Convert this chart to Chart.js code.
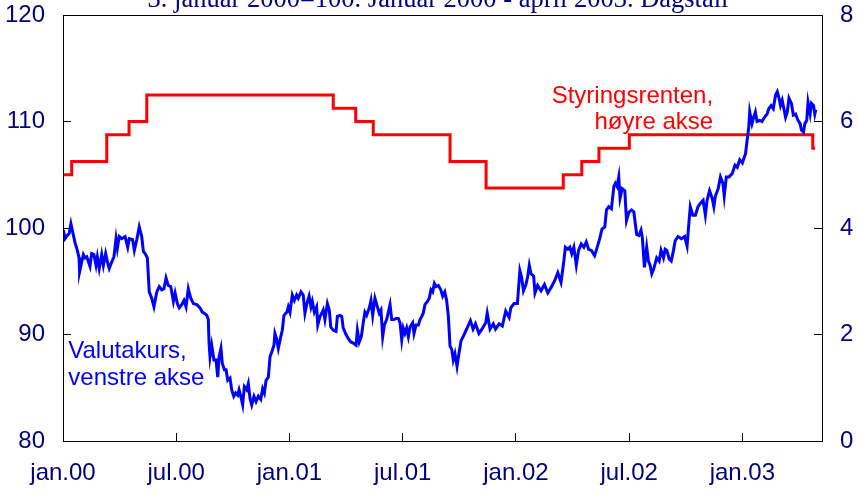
<!DOCTYPE html>
<html>
<head>
<meta charset="utf-8">
<script src="https://cdn.jsdelivr.net/npm/chart.js@4.4.1/dist/chart.umd.min.js"></script>
<style>
  html, body { margin: 0; padding: 0; background: #fff; }
  #wrap { width: 857px; height: 495px; }
</style>
</head>
<body>
<div id="wrap"><canvas id="chartFx"></canvas></div>
<script>
// Valutakurs (venstre akse) og styringsrente (hoyre akse), jan 2000 - april 2003
// x = maaneder etter 1. januar 2000
const titleText = "3. januar 2000=100. Januar 2000 - april 2003. Dagstall";
const monthTickLabels = ["jan.00", "jul.00", "jan.01", "jul.01", "jan.02", "jul.02", "jan.03"];
const fxLabel = ["Valutakurs,", "venstre akse"];
const rateLabel = ["Styringsrenten,", "høyre akse"];

const fxMonths = [
  0.02, 0.11, 0.23, 0.33, 0.42, 0.51, 0.64, 0.76, 0.85, 0.88, 0.99, 1.08, 1.17, 1.26, 1.43, 1.52, 1.64, 1.75, 1.82, 1.92,
  2.05, 2.14, 2.26, 2.37, 2.45, 2.58, 2.70, 2.81, 2.88, 2.98, 3.11, 3.29, 3.43, 3.51, 3.69, 3.78, 3.91, 4.04, 4.17, 4.26,
  4.35, 4.47, 4.57, 4.70, 4.82, 4.97, 5.10, 5.23, 5.35, 5.46, 5.58, 5.71, 5.85, 5.94, 6.06, 6.16, 6.29, 6.41, 6.52, 6.64,
  6.77, 6.91, 7.09, 7.26, 7.38, 7.49, 7.62, 7.70, 7.74, 7.79, 7.88, 8.00, 8.11, 8.20, 8.27, 8.37, 8.44, 8.55, 8.64, 8.73,
  8.85, 8.94, 9.05, 9.15, 9.26, 9.33, 9.42, 9.52, 9.61, 9.73, 9.82, 9.91, 10.00, 10.12, 10.23, 10.35, 10.48, 10.58, 10.67, 10.76,
  10.88, 10.97, 11.09, 11.18, 11.23, 11.32, 11.41, 11.54, 11.62, 11.71, 11.80, 11.87, 11.94, 12.03, 12.15, 12.26, 12.38, 12.47, 12.61, 12.73,
  12.82, 12.91, 13.04, 13.14, 13.21, 13.32, 13.44, 13.50, 13.62, 13.74, 13.79, 13.88, 14.01, 14.11, 14.19, 14.32, 14.47, 14.54, 14.68, 14.77,
  14.85, 15.00, 15.12, 15.25, 15.38, 15.53, 15.60, 15.70, 15.81, 15.91, 16.00, 16.09, 16.23, 16.32, 16.41, 16.53, 16.66, 16.76, 16.85, 16.94,
  17.03, 17.15, 17.24, 17.33, 17.42, 17.54, 17.65, 17.77, 17.86, 17.95, 18.03, 18.12, 18.21, 18.30, 18.39, 18.53, 18.60, 18.71, 18.83, 18.92,
  19.01, 19.09, 19.18, 19.31, 19.41, 19.50, 19.59, 19.68, 19.77, 19.89, 20.02, 20.12, 20.23, 20.33, 20.42, 20.51, 20.60, 20.68, 20.77, 20.88,
  20.97, 21.09, 21.23, 21.41, 21.59, 21.73, 21.86, 22.04, 22.20, 22.40, 22.48, 22.63, 22.80, 22.92, 23.11, 23.28, 23.46, 23.64, 23.73, 23.90,
  24.08, 24.21, 24.30, 24.40, 24.53, 24.62, 24.71, 24.80, 24.94, 25.01, 25.15, 25.33, 25.51, 25.69, 25.86, 26.04, 26.22, 26.39, 26.54, 26.62,
  26.75, 26.86, 26.96, 27.07, 27.20, 27.32, 27.46, 27.60, 27.73, 27.85, 28.00, 28.17, 28.31, 28.44, 28.56, 28.71, 28.80, 28.92, 29.06, 29.19,
  29.27, 29.36, 29.45, 29.52, 29.63, 29.77, 29.86, 29.99, 30.13, 30.25, 30.40, 30.52, 30.63, 30.70, 30.81, 30.93, 31.02, 31.11, 31.20, 31.29,
  31.37, 31.46, 31.59, 31.69, 31.82, 31.91, 32.00, 32.12, 32.23, 32.35, 32.44, 32.59, 32.77, 32.94, 33.07, 33.15, 33.24, 33.37, 33.51, 33.65,
  33.77, 33.92, 34.04, 34.13, 34.26, 34.40, 34.49, 34.57, 34.72, 34.84, 34.97, 35.04, 35.15, 35.29, 35.46, 35.61, 35.73, 35.86, 36.00, 36.17,
  36.25, 36.34, 36.39, 36.51, 36.60, 36.69, 36.78, 36.92, 37.04, 37.17, 37.31, 37.40, 37.52, 37.64, 37.76, 37.85, 37.94, 38.02, 38.11, 38.20,
  38.29, 38.38, 38.47, 38.60, 38.70, 38.82, 38.95, 39.06, 39.13, 39.24, 39.31, 39.41, 39.48, 39.59, 39.66, 39.77, 39.84, 39.89
];
const fxValues = [
  99.8, 99.0, 99.3, 99.5, 100.4, 99.65, 98.6, 97.9, 97.2, 95.9, 96.8, 97.5, 97.2, 97.3, 96.4, 97.6, 97.5, 96.5, 97.3, 96.2,
  97.5, 96.5, 97.6, 96.7, 96.2, 96.8, 97.3, 99.0, 98.1, 99.2, 99.0, 99.2, 98.2, 99.0, 98.9, 97.9, 98.9, 100.1, 99.2, 97.8,
  97.6, 97.2, 94.0, 93.4, 92.6, 94.0, 94.5, 94.2, 94.3, 95.3, 94.6, 94.5, 93.1, 93.9, 92.9, 92.5, 92.8, 93.2, 92.6, 94.3,
  93.4, 92.9, 92.8, 92.5, 92.1, 92.0, 91.8, 91.4, 89.2, 87.9, 89.0, 87.6, 87.6, 86.0, 87.9, 88.7, 87.3, 86.7, 86.7, 85.7,
  85.9, 84.8, 84.2, 84.5, 84.3, 84.8, 84.2, 83.4, 85.1, 84.8, 85.4, 84.0, 83.4, 84.2, 83.7, 84.2, 83.9, 84.9, 84.5, 85.7,
  86.0, 87.9, 88.5, 89.0, 90.1, 89.6, 88.7, 89.8, 90.4, 91.8, 92.0, 92.1, 92.6, 92.1, 93.7, 93.2, 93.7, 93.4, 94.0, 93.7,
  92.0, 92.8, 93.6, 92.6, 93.1, 92.1, 92.6, 90.9, 91.7, 92.1, 92.3, 91.4, 92.9, 92.3, 90.7, 90.4, 90.3, 91.7, 91.8, 91.7,
  90.6, 90.0, 89.6, 89.3, 89.2, 89.0, 90.4, 89.3, 89.8, 91.1, 92.1, 91.8, 92.5, 93.2, 91.8, 93.4, 92.6, 92.0, 92.3, 89.8,
  90.9, 91.4, 92.1, 92.8, 91.4, 91.4, 91.5, 91.5, 91.1, 89.5, 90.6, 90.1, 90.6, 89.8, 90.7, 91.1, 90.1, 90.9, 90.9, 91.4,
  91.7, 92.0, 92.8, 93.1, 93.4, 94.2, 94.0, 94.8, 94.5, 94.6, 94.2, 93.6, 94.0, 93.2, 91.7, 88.9, 88.6, 87.6, 88.2, 87.0,
  88.1, 89.4, 89.9, 90.6, 91.3, 90.5, 91.0, 90.1, 90.5, 91.1, 92.0, 90.5, 91.0, 90.5, 91.0, 90.8, 92.2, 91.6, 92.5, 92.9,
  92.9, 96.0, 95.4, 94.1, 94.7, 95.4, 96.5, 95.7, 95.5, 93.9, 94.6, 94.1, 94.7, 93.9, 94.4, 95.0, 95.8, 94.9, 96.9, 98.2,
  98.0, 98.2, 97.6, 98.2, 96.5, 97.9, 98.5, 98.2, 98.7, 98.0, 97.9, 97.4, 98.2, 99.0, 99.9, 100.1, 101.7, 102.0, 101.8, 103.9,
  104.2, 103.9, 104.8, 102.8, 103.7, 103.5, 100.7, 101.5, 101.7, 101.5, 99.4, 99.3, 99.8, 99.1, 96.3, 98.2, 96.9, 96.5, 95.7, 96.1,
  96.6, 97.2, 96.9, 97.9, 97.2, 98.0, 97.9, 97.1, 96.9, 97.9, 98.8, 99.2, 99.0, 99.2, 98.3, 100.1, 102.0, 101.2, 101.2, 102.0,
  102.3, 102.6, 101.2, 102.6, 103.5, 102.8, 102.0, 103.0, 103.7, 104.8, 104.2, 103.0, 104.8, 104.8, 105.1, 105.9, 105.7, 106.4, 106.1, 107.0,
  108.2, 109.5, 110.9, 109.8, 110.4, 110.9, 110.0, 110.1, 110.0, 110.4, 110.7, 111.2, 111.5, 111.2, 112.5, 112.8, 112.2, 111.5, 112.0, 111.2,
  110.4, 110.9, 112.2, 111.7, 110.6, 110.7, 110.1, 109.8, 109.2, 109.0, 109.8, 110.1, 111.8, 110.7, 111.7, 111.5, 110.7, 111.1
];

// styringsrenten: maaned for endring og nytt nivaa
const rateMonths = [0, 0.46, 2.32, 3.50, 4.44, 14.32, 15.51, 16.44, 20.51, 22.42, 26.51, 27.49, 28.40, 30.01, 39.73, 39.85];
const rateValues = [5.0, 5.25, 5.75, 6.0, 6.5, 6.25, 6.0, 5.75, 5.25, 4.75, 5.0, 5.25, 5.5, 5.75, 5.5, 5.5];

const navy = '#000080';
const tickFont = { family: "'Liberation Sans', Arial, sans-serif", size: 24 };
const noteFont = "24px 'Liberation Sans', Arial, sans-serif";

const axisGrid = { display: true, drawOnChartArea: false, drawTicks: true, tickLength: -8, color: '#000', lineWidth: 1 };
const axisBorder = { display: true, color: '#000', width: 1 };

const framePlugin = {
    id: 'frame',
    afterDatasetsDraw(chart) {
        const { ctx, chartArea } = chart;
        ctx.save();
        ctx.strokeStyle = '#000';
        ctx.lineWidth = 1;
        ctx.strokeRect(chartArea.left + 0.5, chartArea.top + 0.5, chartArea.right - chartArea.left, chartArea.bottom - chartArea.top);
        ctx.restore();
    }
};

const textPlugin = {
    id: 'texts',
    afterDraw(chart) {
        const { ctx, scales } = chart;
        ctx.save();
        // tittel, delvis avskaaret oppe
        ctx.fillStyle = navy;
        ctx.font = "26.5px 'Liberation Serif', 'Times New Roman', serif";
        ctx.textAlign = 'center';
        ctx.textBaseline = 'alphabetic';
        ctx.fillText(titleText, 438, 7);

        ctx.font = noteFont;
        ctx.fillStyle = '#ff0000';
        ctx.textAlign = 'right';
        const rx = scales.x.getPixelForValue(34.45);
        ctx.fillText(rateLabel[0], rx, scales.y2.getPixelForValue(6.35));
        ctx.fillText(rateLabel[1], rx, scales.y2.getPixelForValue(5.85));

        ctx.fillStyle = '#0000ff';
        ctx.textAlign = 'left';
        const fx = scales.x.getPixelForValue(0.28);
        ctx.fillText(fxLabel[0], fx, scales.y.getPixelForValue(87.77));
        ctx.fillText(fxLabel[1], fx, scales.y.getPixelForValue(85.26));
        ctx.restore();
    }
};

const ctx = document.getElementById('chartFx').getContext('2d');
new Chart(ctx, {
    type: 'line',
    data: {
        datasets: [
            {
                label: 'Valutakurs',
                data: fxMonths.map((m, i) => ({ x: m, y: fxValues[i] })),
                borderColor: '#0000ff',
                borderWidth: 3,
                pointRadius: 0,
                tension: 0,
                yAxisID: 'y',
                order: 0
            },
            {
                label: 'Styringsrenten',
                data: rateMonths.map((m, i) => ({ x: m, y: rateValues[i] })),
                borderColor: '#ff0000',
                borderWidth: 3,
                pointRadius: 0,
                stepped: true,
                yAxisID: 'y2',
                order: 1
            }
        ]
    },
    options: {
        responsive: true,
        maintainAspectRatio: false,
        animation: false,
        layout: { padding: { top: 15, left: 0, right: 0, bottom: 0 } },
        plugins: {
            legend: { display: false },
            tooltip: { enabled: false }
        },
        scales: {
            x: {
                type: 'linear',
                min: 0,
                max: 40.22,
                grid: axisGrid,
                border: axisBorder,
                afterFit: (s) => { s.height = 54; s.paddingLeft = 0; s.paddingRight = 0; },
                ticks: {
                    stepSize: 6,
                    includeBounds: false,
                    autoSkip: false,
                    maxRotation: 0,
                    padding: 26,
                    color: navy,
                    font: tickFont,
                    callback: (v) => monthTickLabels[Math.round(v / 6)] ?? ''
                }
            },
            y: {
                position: 'left',
                min: 80,
                max: 120,
                grid: axisGrid,
                border: axisBorder,
                afterFit: (s) => { s.width = 63; s.paddingTop = 0; s.paddingBottom = 0; },
                ticks: { stepSize: 10, padding: 26, color: navy, font: tickFont }
            },
            y2: {
                position: 'right',
                min: 0,
                max: 8,
                grid: axisGrid,
                border: axisBorder,
                afterFit: (s) => { s.width = 35; s.paddingTop = 0; s.paddingBottom = 0; },
                ticks: { stepSize: 2, padding: 26, color: navy, font: tickFont }
            }
        }
    },
    plugins: [framePlugin, textPlugin]
});
</script>
</body>
</html>
